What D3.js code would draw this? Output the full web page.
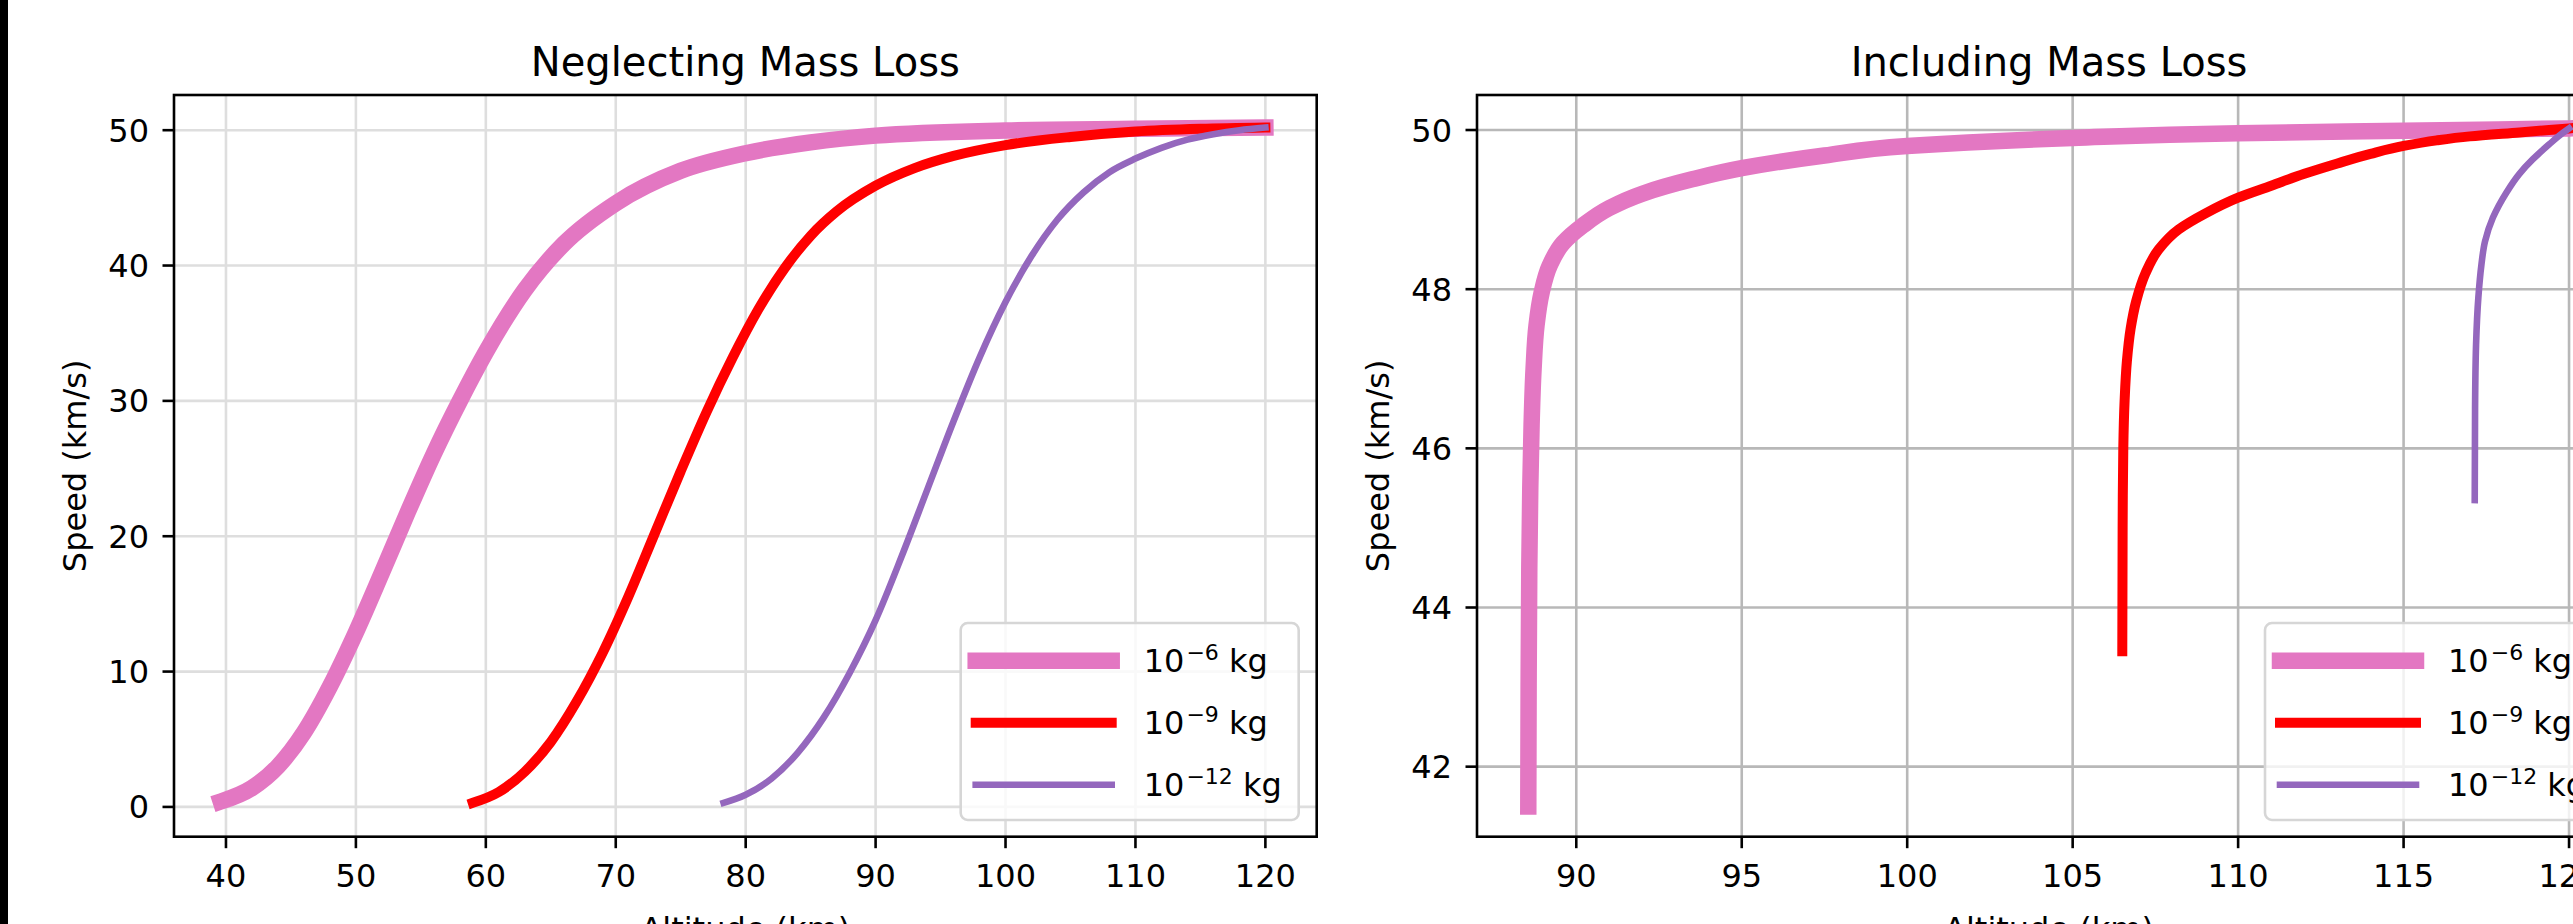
<!DOCTYPE html>
<html>
<head>
<meta charset="utf-8">
<script src="https://cdn.jsdelivr.net/npm/d3@7"></script>
<style>
body { margin: 0; background: #fff; }
svg { display: block; }
text { font-family: "DejaVu Sans", sans-serif; fill: #000; }
</style>
</head>
<body>
<div id="chart"></div>
<script>
// ---- data ----
var massExp = ["\u22126", "\u22129", "\u221212"];
var seriesColors = ["#e377c2", "#ff0000", "#9467bd"];

// neglecting mass loss (altitude km, speed km/s)
var negAlt6   = [39.6, 42, 44, 46, 48, 50, 52, 54, 56, 58, 60, 63, 66, 70, 75, 80, 85, 90, 100, 110, 120];
var negSpeed6 = [0.4, 1.4, 3.0, 5.5, 8.9, 12.9, 17.3, 21.8, 26.1, 30.0, 33.6, 38.2, 41.6, 44.6, 47.0, 48.3, 49.1, 49.6, 49.98, 50.1, 50.2];
var negAlt9   = [59.0, 61, 63, 65, 67, 69, 71, 73, 75, 77, 79, 81, 83, 85, 87, 90, 93, 96, 100, 105, 110, 115, 120];
var negSpeed9 = [0.3, 1.1, 2.6, 4.8, 7.8, 11.4, 15.6, 20.2, 24.8, 29.2, 33.2, 36.8, 39.8, 42.2, 44.0, 45.9, 47.2, 48.1, 48.9, 49.5, 49.9, 50.1, 50.2];
var negAlt12   = [78.3, 80, 82, 84, 86, 88, 90, 92, 94, 96, 98, 100, 102, 104, 106, 108, 110, 112, 114, 116, 118, 120];
var negSpeed12 = [0.3, 0.9, 2.1, 4.0, 6.6, 9.9, 13.8, 18.5, 23.5, 28.5, 33.2, 37.3, 40.7, 43.4, 45.4, 46.9, 47.9, 48.7, 49.3, 49.7, 50.0, 50.2];

// including mass loss
var incAlt6   = [88.55, 88.56, 88.58, 88.61, 88.65, 88.71, 88.8, 88.95, 89.2, 89.6, 90.2, 91, 92, 93.5, 95, 97.5, 100, 105, 110, 115, 120];
var incSpeed6 = [41.5, 43.0, 44.5, 45.5, 46.3, 47.0, 47.55, 47.95, 48.3, 48.58, 48.8, 49.02, 49.2, 49.38, 49.52, 49.68, 49.8, 49.9, 49.96, 49.99, 50.02];
var incAlt9   = [106.5, 106.51, 106.53, 106.57, 106.64, 106.75, 106.92, 107.2, 107.6, 108.2, 109, 110, 111, 112, 113, 114, 115, 116, 117, 118.5, 120];
var incSpeed9 = [43.45, 45.0, 46.0, 46.6, 47.1, 47.5, 47.85, 48.2, 48.5, 48.75, 48.95, 49.15, 49.3, 49.45, 49.58, 49.7, 49.8, 49.87, 49.92, 49.97, 50.02];
var incAlt12   = [117.15, 117.16, 117.19, 117.26, 117.35, 117.46, 117.7, 118.1, 118.5, 118.9, 119.4, 119.8, 120];
var incSpeed12 = [45.35, 46.5, 47.3, 47.9, 48.3, 48.6, 48.9, 49.21, 49.45, 49.63, 49.82, 49.96, 50.02];

var negXTicks = [40, 50, 60, 70, 80, 90, 100, 110, 120];
var negYTicks = [0, 10, 20, 30, 40, 50];
var incXTicks = [90, 95, 100, 105, 110, 115, 120];
var incYTicks = [42, 44, 46, 48, 50];

var lineWidths = [16.5, 10, 6.6];

// ---- figure ----
var W = 2573, H = 924;
var svg = d3.select("#chart").append("svg")
	.attr("width", W)
	.attr("height", H);

svg.append("rect").attr("width", W).attr("height", H).attr("fill", "#fff");
// dark strip on the left edge of the image
svg.append("rect").attr("width", 8).attr("height", H).attr("fill", "#000");

function zipData(alt, speed) {
	return alt.map(function(a, i) { return {alt: a, speed: speed[i]}; });
}

function drawPanel(cfg) {
	var g = svg.append("g");
	var x = d3.scaleLinear().domain(cfg.xDomain).range([cfg.left, cfg.right]);
	var y = d3.scaleLinear().domain(cfg.yDomain).range([cfg.bottom, cfg.top]);

	var clipId = "clip" + cfg.id;
	g.append("clipPath").attr("id", clipId)
		.append("rect")
		.attr("x", cfg.left).attr("y", cfg.top)
		.attr("width", cfg.right - cfg.left).attr("height", cfg.bottom - cfg.top);

	// grid
	var grid = g.append("g").attr("clip-path", "url(#" + clipId + ")");
	grid.selectAll(".gx").data(cfg.xTicks).enter().append("line")
		.attr("x1", d => x(d)).attr("x2", d => x(d))
		.attr("y1", cfg.top).attr("y2", cfg.bottom)
		.attr("stroke", cfg.gridColor).attr("stroke-width", 2.6);
	grid.selectAll(".gy").data(cfg.yTicks).enter().append("line")
		.attr("x1", cfg.left).attr("x2", cfg.right)
		.attr("y1", d => y(d)).attr("y2", d => y(d))
		.attr("stroke", cfg.gridColor).attr("stroke-width", 2.6);

	// lines
	var line = d3.line()
		.x(d => x(d.alt))
		.y(d => y(d.speed))
		.curve(cfg.curve);
	var lines = g.append("g").attr("clip-path", "url(#" + clipId + ")");
	cfg.series.forEach(function(s, i) {
		lines.append("path")
			.datum(s)
			.attr("fill", "none")
			.attr("stroke", seriesColors[i])
			.attr("stroke-width", lineWidths[i])
			.attr("stroke-linecap", "square")
			.attr("stroke-linejoin", "round")
			.attr("d", line);
	});

	// spines
	g.append("rect")
		.attr("x", cfg.left).attr("y", cfg.top)
		.attr("width", cfg.right - cfg.left).attr("height", cfg.bottom - cfg.top)
		.attr("fill", "none").attr("stroke", "#000").attr("stroke-width", 2.6);

	// ticks + labels
	g.selectAll(".tx").data(cfg.xTicks).enter().append("line")
		.attr("x1", d => x(d)).attr("x2", d => x(d))
		.attr("y1", cfg.bottom).attr("y2", cfg.bottom + 11.5)
		.attr("stroke", "#000").attr("stroke-width", 2.6);
	g.selectAll(".lx").data(cfg.xTicks).enter().append("text")
		.attr("x", d => x(d)).attr("y", cfg.bottom + 50)
		.attr("text-anchor", "middle")
		.attr("font-size", 32)
		.text(d => d);
	g.selectAll(".ty").data(cfg.yTicks).enter().append("line")
		.attr("x1", cfg.left - 11.5).attr("x2", cfg.left)
		.attr("y1", d => y(d)).attr("y2", d => y(d))
		.attr("stroke", "#000").attr("stroke-width", 2.6);
	g.selectAll(".ly").data(cfg.yTicks).enter().append("text")
		.attr("x", cfg.left - 25).attr("y", d => y(d) + 11.5)
		.attr("text-anchor", "end")
		.attr("font-size", 32)
		.text(d => d);

	// title and axis labels
	var cx = (cfg.left + cfg.right) / 2;
	g.append("text")
		.attr("x", cx).attr("y", 76)
		.attr("text-anchor", "middle")
		.attr("font-size", 40)
		.text(cfg.title);
	g.append("text")
		.attr("x", cx).attr("y", 940)
		.attr("text-anchor", "middle")
		.attr("font-size", 32)
		.text("Altitude (km)");
	var cy = (cfg.top + cfg.bottom) / 2;
	g.append("text")
		.attr("transform", "translate(" + (cfg.left - 88) + "," + cy + ") rotate(-90)")
		.attr("text-anchor", "middle")
		.attr("font-size", 32)
		.text("Speed (km/s)");

	// legend
	var lx = cfg.right - 356, ly = 623;
	var leg = g.append("g");
	leg.append("rect")
		.attr("x", lx).attr("y", ly)
		.attr("width", 338).attr("height", 197)
		.attr("rx", 7).attr("ry", 7)
		.attr("fill", "#fff").attr("fill-opacity", 0.8)
		.attr("stroke", "#d6d6d6").attr("stroke-width", 2.6);
	massExp.forEach(function(e, i) {
		var rowY = ly + 37.7 + i * 62;
		leg.append("line")
			.attr("x1", lx + 15).attr("x2", lx + 151)
			.attr("y1", rowY).attr("y2", rowY)
			.attr("stroke", seriesColors[i])
			.attr("stroke-width", lineWidths[i])
			.attr("stroke-linecap", "square");
		var t = leg.append("text")
			.attr("x", lx + 183).attr("y", rowY + 11)
			.attr("font-size", 32);
		t.append("tspan").text("10");
		t.append("tspan").attr("dy", -12).attr("dx", 2).attr("font-size", 22).text(e);
		t.append("tspan").attr("dy", 12).text("\u00a0kg");
	});
}

drawPanel({
	id: "neg",
	left: 174, right: 1316.7, top: 95, bottom: 836.7,
	xDomain: [36.0, 123.95], yDomain: [-2.2, 52.6],
	xTicks: negXTicks, yTicks: negYTicks,
	gridColor: "#dedede",
	curve: d3.curveMonotoneX,
	title: "Neglecting Mass Loss",
	series: [zipData(negAlt6, negSpeed6), zipData(negAlt9, negSpeed9), zipData(negAlt12, negSpeed12)]
});

drawPanel({
	id: "inc",
	left: 1477, right: 2621, top: 95, bottom: 836.7,
	xDomain: [87.0, 121.57], yDomain: [41.12, 50.44],
	xTicks: incXTicks, yTicks: incYTicks,
	gridColor: "#b8b8b8",
	curve: d3.curveMonotoneY,
	title: "Including Mass Loss",
	series: [zipData(incAlt6, incSpeed6), zipData(incAlt9, incSpeed9), zipData(incAlt12, incSpeed12)]
});
</script>
</body>
</html>
